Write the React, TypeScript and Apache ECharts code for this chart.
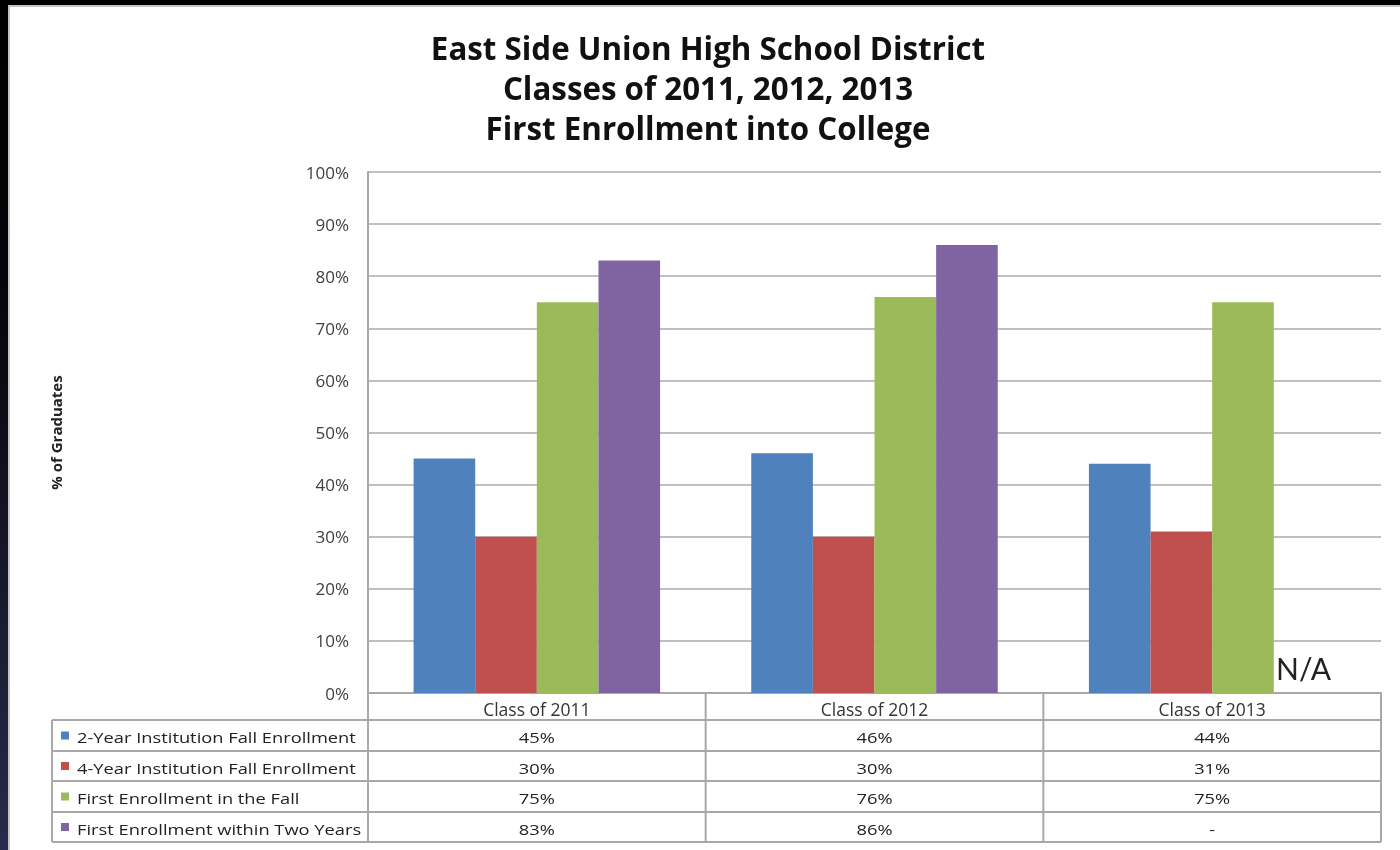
import React, { useEffect, useRef } from "react";
import * as echarts from "echarts";

const titleLines = [
  "East Side Union High School District",
  "Classes of 2011, 2012, 2013",
  "First Enrollment into College",
];
const categories = ["Class of 2011", "Class of 2012", "Class of 2013"];
const seriesNames = [
  "2-Year Institution Fall Enrollment",
  "4-Year Institution Fall Enrollment",
  "First Enrollment in the Fall",
  "First Enrollment within Two Years",
];
const twoYearFall: (number | null)[] = [45, 46, 44];
const fourYearFall: (number | null)[] = [30, 30, 31];
const firstFall: (number | null)[] = [75, 76, 75];
const withinTwoYears: (number | null)[] = [83, 86, null];
const seriesColors = ["#4F81BD", "#C0504D", "#9BBB59", "#8064A2"];
const yAxisName = "% of Graduates";
const naLabel = "N/A";
const missingCell = "-";

const FONT = "Open Sans";
const GRID_LEFT = 368;
const GRID_RIGHT_X = 1381;
const GRID_TOP = 172;
const GRID_BOTTOM_Y = 693;
const TABLE_LEFT = 52;
const ROW_BOUNDS = [720, 751, 781, 812, 842];
const LINE_COLOR = "#a8a8a8";
const TABLE_SCALE_X = 1.22;

export default function App() {
  const ref = useRef<HTMLDivElement>(null);
  useEffect(() => {
    if (!ref.current) return;
    const chart = echarts.init(ref.current, null, { renderer: "svg" });
    const allSeries = [twoYearFall, fourYearFall, firstFall, withinTwoYears];
    chart.setOption({
      animation: false,
      backgroundColor: "transparent",
      textStyle: { fontFamily: FONT },
      title: {
        text: titleLines.join("\n"),
        left: 703,
        textAlign: "center",
        top: 23,
        textStyle: {
          fontFamily: FONT,
          fontWeight: "bold",
          fontSize: 31.3,
          lineHeight: 40,
          color: "#111",
        },
      },
      grid: {
        left: GRID_LEFT,
        right: 1400 - GRID_RIGHT_X,
        top: GRID_TOP,
        bottom: 850 - GRID_BOTTOM_Y,
      },
      xAxis: {
        type: "category",
        data: categories,
        axisLine: { show: true, lineStyle: { color: LINE_COLOR, width: 2 } },
        axisTick: { show: false },
        axisLabel: { margin: 7, fontSize: 17.5, color: "#333", fontFamily: FONT },
      },
      yAxis: {
        type: "value",
        min: 0,
        max: 100,
        interval: 10,
        name: yAxisName,
        nameLocation: "middle",
        nameRotate: 90,
        nameGap: 305,
        nameTextStyle: { fontFamily: FONT, fontWeight: "bold", fontSize: 15, color: "#222" },
        axisLine: { show: true, lineStyle: { color: LINE_COLOR, width: 2 } },
        axisTick: { show: false },
        splitLine: { show: true, lineStyle: { color: "#c0c0c0", width: 2 } },
        axisLabel: {
          formatter: "{value}%",
          fontSize: 17,
          color: "#404040",
          margin: 19,
          fontFamily: FONT,
        },
      },
      series: allSeries.map((vals, si) => ({
        type: "bar",
        name: seriesNames[si],
        barGap: "0%",
        barCategoryGap: "27%",
        itemStyle: { color: seriesColors[si] },
        data: vals.map((v) =>
          v == null
            ? {
                value: 0,
                label: {
                  show: true,
                  formatter: naLabel,
                  position: "top",
                  offset: [-1, -5],
                  fontSize: 30,
                  color: "#222",
                  fontFamily: "Lato",
                },
              }
            : v
        ),
      })),
    });

    const band = (GRID_RIGHT_X - GRID_LEFT) / categories.length;
    const centers = categories.map((c) => chart.convertToPixel({ xAxisIndex: 0 }, c) as number);
    const els: any[] = [];
    els.push({
      type: "rect",
      z: -100,
      shape: { x: 0, y: 0, width: 1400, height: 850 },
      style: {
        fill: new echarts.graphic.LinearGradient(0, 0, 0, 1, [
          { offset: 0, color: "#000000" },
          { offset: 0.35, color: "#05050a" },
          { offset: 1, color: "#2a2a4c" },
        ]),
      },
    });
    els.push({
      type: "rect",
      z: -99,
      shape: { x: 9, y: 6, width: 1400, height: 850 },
      style: { fill: "#ffffff", stroke: "#c4c4c4", lineWidth: 2 },
    });
    ROW_BOUNDS.forEach((y) => {
      els.push({
        type: "line",
        shape: { x1: TABLE_LEFT, y1: y, x2: GRID_RIGHT_X, y2: y },
        style: { stroke: LINE_COLOR, lineWidth: 2 },
      });
    });
    els.push({
      type: "line",
      shape: { x1: TABLE_LEFT, y1: ROW_BOUNDS[0], x2: TABLE_LEFT, y2: ROW_BOUNDS[ROW_BOUNDS.length - 1] },
      style: { stroke: LINE_COLOR, lineWidth: 2 },
    });
    const vx = [centers[0] - band / 2, ...centers.map((c) => c + band / 2)];
    vx.forEach((x) => {
      els.push({
        type: "line",
        shape: { x1: x, y1: GRID_BOTTOM_Y, x2: x, y2: ROW_BOUNDS[ROW_BOUNDS.length - 1] },
        style: { stroke: LINE_COLOR, lineWidth: 2 },
      });
    });
    allSeries.forEach((vals, si) => {
      const cy = (ROW_BOUNDS[si] + ROW_BOUNDS[si + 1]) / 2 + 2;
      els.push({
        type: "rect",
        shape: { x: 61, y: cy - 6, width: 8, height: 8 },
        style: { fill: seriesColors[si] },
      });
      els.push({
        type: "text",
        x: 77,
        y: cy,
        scaleX: TABLE_SCALE_X,
        style: {
          text: seriesNames[si],
          fill: "#222",
          fontSize: 15,
          fontFamily: FONT,
          textAlign: "left",
          textVerticalAlign: "middle",
          align: "left",
          verticalAlign: "middle",
        },
      });
      vals.forEach((v, ci) => {
        els.push({
          type: "text",
          x: centers[ci],
          y: cy,
          scaleX: TABLE_SCALE_X,
          style: {
            text: v == null ? missingCell : v + "%",
            fill: "#222",
            fontSize: 15,
            fontFamily: FONT,
            textAlign: "center",
            textVerticalAlign: "middle",
            align: "center",
            verticalAlign: "middle",
          },
        });
      });
    });
    chart.setOption({ graphic: { elements: els } });
    return () => chart.dispose();
  }, []);
  return (
    <div
      ref={ref}
      style={{ position: "fixed", left: 0, top: 0, width: 1400, height: 850 }}
    />
  );
}
